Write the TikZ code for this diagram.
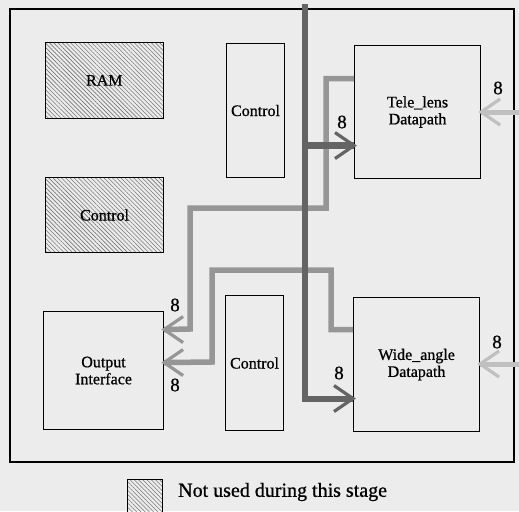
\documentclass[tikz,border=0pt]{standalone}
\usepackage{fontspec}
\setmainfont{Liberation Serif}
\newfontfamily\tmsfont[FakeBold=0.8]{Liberation Serif}
\usetikzlibrary{patterns.meta}
\definecolor{paper}{RGB}{236,236,236}
\definecolor{darkw}{RGB}{100,100,100}
\definecolor{lightw}{RGB}{150,150,150}
\definecolor{inw}{RGB}{192,192,192}
\definecolor{hatchc}{RGB}{120,120,120}
\newcommand\mychevR[2]{\draw[#2,line width=3.2pt] ([xshift=-19pt,yshift=13pt]#1) -- (#1) -- ([xshift=-19pt,yshift=-13pt]#1);}
\newcommand\mychevL[2]{\draw[#2,line width=3.2pt] ([xshift=19pt,yshift=13pt]#1) -- (#1) -- ([xshift=19pt,yshift=-13pt]#1);}
\begin{document}
\begin{tikzpicture}[x=1pt,y=-1pt,
  box/.style={draw,line width=1.1pt,inner sep=0pt,anchor=north west,align=center,
    font=\tmsfont\fontsize{16}{17}\selectfont},
  hatched/.style={box,pattern={Lines[angle=-45,distance=3pt,line width=0.6pt]},pattern color=hatchc},
  num/.style={font=\tmsfont\fontsize{19}{19}\selectfont,inner sep=0pt},
  darkwire/.style={draw=darkw,line width=6pt},
  lightwire/.style={draw=lightw,line width=5.5pt},
  inwire/.style={draw=inw,line width=5pt}
]
\fill[paper] (0,0) rectangle (519,511);
\useasboundingbox (0,0) rectangle (519,511);
\draw[line width=1.4pt] (10,9) rectangle (514,462);

\node[hatched,minimum width=118pt,minimum height=76pt] (ram) at (45,42) {RAM};
\node[hatched,minimum width=118pt,minimum height=75pt] (ctl1) at (45,177) {Control};
\node[box,minimum width=58pt,minimum height=134pt] (ctl2) at (226,43) {Control};
\node[box,minimum width=126pt,minimum height=133pt] (tele) at (354,45) {Tele\_lens\\Datapath};
\node[box,minimum width=120pt,minimum height=118pt] (out) at (43,311) {Output\\Interface};
\node[box,minimum width=58pt,minimum height=135pt] (ctl3) at (225,295) {Control};
\node[box,minimum width=126pt,minimum height=134pt] (wide) at (353,297) {Wide\_angle\\Datapath};

% connector end coordinates
\coordinate (bt) at (305,4);
\coordinate (ta) at ([yshift=-33.5pt]tele.west);
\coordinate (tA) at ([yshift=33.5pt]tele.west);
\coordinate (wa) at ([yshift=-34pt]wide.west);
\coordinate (wA) at ([yshift=35pt]wide.west);
\coordinate (oA) at ([yshift=41pt]out.east);
\coordinate (oB) at ([yshift=8pt]out.east);
\coordinate (rt) at (519,112);
\coordinate (rw) at (519,364);
\coordinate (te) at (tele.east |- rt);
\coordinate (we) at (wide.east |- rw);

% light paths
\draw[lightwire] (tA) -| (326,208) -| (190,329) -- (oA);
\mychevL{oA}{lightw}
\draw[lightwire] (wA) -| (331,270) -| (212,362) -- (oB);
\mychevL{oB}{lightw}
% dark bus
\draw[darkwire] (bt) |- (wa);
\mychevR{wa}{darkw}
\draw[darkwire,line width=7pt] (bt |- ta) -- (ta);
\mychevR{ta}{darkw}
% right inputs
\draw[inwire] (rt) -- (te);
\mychevL{te}{inw}
\draw[inwire] (rw) -- (we);
\mychevL{we}{inw}

\node[num] (n1) at (342,122) {8};
\node[num] (n2) at (339,373) {8};
\node[num] (n3) at (498,88) {8};
\node[num] (n4) at (497,342) {8};
\node[num] (n5) at (175,305) {8};
\node[num] (n6) at (175,385) {8};

\node[hatched,line width=0.8pt,minimum width=35pt,minimum height=36pt] (leg) at (127,479) {};
\node[anchor=west,inner sep=0pt,font=\tmsfont\fontsize{20}{20}\selectfont] (legt) at (178,492) {Not used during this stage};
\end{tikzpicture}
\end{document}
